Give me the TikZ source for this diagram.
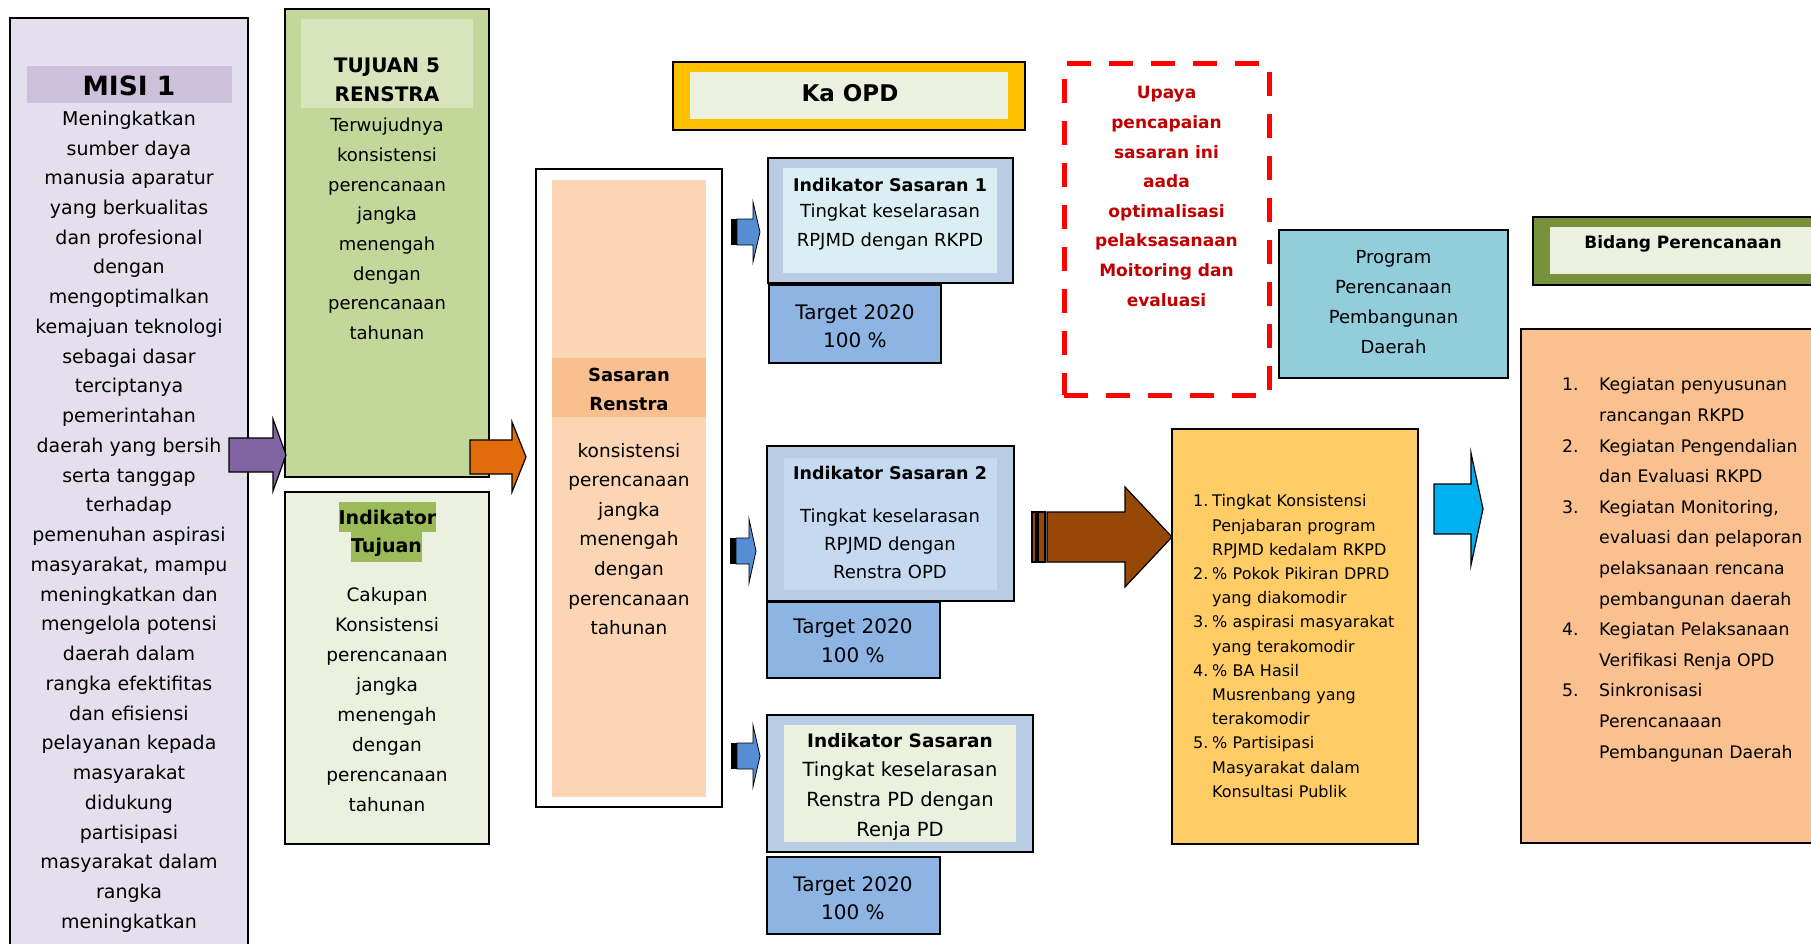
\documentclass[tikz,border=0pt]{standalone}
\usepackage{fontspec}
\setmainfont{DejaVu Sans}
\usetikzlibrary{fit}

\definecolor{misiFill}{HTML}{E4DFEC}
\definecolor{misiHead}{HTML}{CCC0DA}
\definecolor{tujFill}{HTML}{C4D79B}
\definecolor{tujHead}{HTML}{D8E4BC}
\definecolor{paleGreen}{HTML}{EBF1DE}
\definecolor{hlGreen}{HTML}{9BBB59}
\definecolor{purpleArr}{HTML}{8064A2}
\definecolor{orangeArr}{HTML}{E26B0A}
\definecolor{peach}{HTML}{FCD5B4}
\definecolor{peachDark}{HTML}{FABF8F}
\definecolor{gold}{HTML}{FFC000}
\definecolor{steel}{HTML}{B8CCE4}
\definecolor{iceBlue}{HTML}{DAEEF3}
\definecolor{paleBlue}{HTML}{C5D9F1}
\definecolor{targetBlue}{HTML}{8DB4E2}
\definecolor{smallArr}{HTML}{558ED5}
\definecolor{darkRed}{HTML}{C00000}
\definecolor{progBlue}{HTML}{92CDDC}
\definecolor{brownArr}{HTML}{974706}
\definecolor{listYellow}{HTML}{FFCC66}
\definecolor{cyanArr}{HTML}{00B0F0}
\definecolor{oliveBar}{HTML}{76933C}
\definecolor{apricot}{HTML}{FAC090}

\newcommand\fsz[2]{\fontsize{#1}{#2}\selectfont}
% block arrow: style, tail x, head base x, tip x, centre y, half body, half head
\newcommand\blockarrow[7]{%
  \path[#1] (#2,#5-#6) -- (#3,#5-#6) -- (#3,#5-#7) -- (#4,#5)
    -- (#3,#5+#7) -- (#3,#5+#6) -- (#2,#5+#6) -- cycle;}
% numbered list item with hanging indent (lines split by \newline)
\newcommand\listitem[3]{\hangindent=#1\hangafter=1\noindent\makebox[#1][l]{#2}#3\par}

\begin{document}
\begin{tikzpicture}[x=1pt,y=-1pt,
  box/.style={draw=black, line width=2pt, inner sep=0pt},
  band/.style={draw=none, inner sep=0pt},
  txt/.style={align=center, inner sep=0pt},
  arr/.style={draw=black, line width=1.2pt, line join=miter},
  listbox/.style={inner sep=0pt, anchor=north west}]
\useasboundingbox (0,0) rectangle (1811,944);
\clip (0,0) rectangle (1811,944);

% ---- Misi column
\node[box, fill=misiFill, fit={(10,18) (248,990)}] (misi) {};
\node[band, fill=misiHead, fit={(27,66) (232,103)}] (misiBand) {};
\node[txt, font={\bfseries\fsz{26.5}{30}}] (misiHd) at (129,86) {MISI 1};
\node[txt, font={\fsz{19}{29.74}}] (misiTx) at (129,521.5)
  {Meningkatkan\\sumber daya\\manusia aparatur\\yang berkualitas\\dan profesional\\dengan\\mengoptimalkan\\kemajuan teknologi\\sebagai dasar\\terciptanya\\pemerintahan\\daerah yang bersih\\serta tanggap\\terhadap\\pemenuhan aspirasi\\masyarakat, mampu\\meningkatkan dan\\mengelola potensi\\daerah dalam\\rangka efektifitas\\dan efisiensi\\pelayanan kepada\\masyarakat\\didukung\\partisipasi\\masyarakat dalam\\rangka\\meningkatkan};

% ---- Tujuan column
\node[box, fill=tujFill, fit={(285,9) (489,477)}] (tujuan) {};
\node[band, fill=tujHead, fit={(301,19) (473,108)}] (tujBand) {};
\node[txt, font={\bfseries\fsz{20}{29}}] (tujHd) at (387,79.5) {TUJUAN 5\\RENSTRA};
\node[txt, font={\fsz{18}{29.7}}] (tujTx) at (387,229)
  {Terwujudnya\\konsistensi\\perencanaan\\jangka\\menengah\\dengan\\perencanaan\\tahunan};

\node[box, fill=paleGreen, fit={(285,492) (489,844)}] (indTuj) {};
\node[band, fill=hlGreen, minimum height=30pt, font={\bfseries\fsz{19}{30}}] (indTujA) at (387.5,517) {Indikator};
\node[band, fill=hlGreen, minimum height=30pt, font={\bfseries\fsz{19}{30}}] (indTujB) at (386.5,547) {Tujuan};
\node[txt, font={\fsz{18.5}{30}}] (indTujTx) at (387,700)
  {Cakupan\\Konsistensi\\perencanaan\\jangka\\menengah\\dengan\\perencanaan\\tahunan};

% ---- Sasaran column
\node[box, fill=white, fit={(536,169) (722,807)}] (sasaran) {};
\node[band, fill=peach, fit={(552,180) (706,797)}] (sasInner) {};
\node[band, fill=peachDark, fit={(552,358) (706,417)}] (sasBand) {};
\node[txt, font={\bfseries\fsz{18}{29}}] (sasHd) at (629,389) {Sasaran\\Renstra};
\node[txt, font={\fsz{18.5}{29.6}}] (sasTx) at (629,539)
  {konsistensi\\perencanaan\\jangka\\menengah\\dengan\\perencanaan\\tahunan};

% ---- Ka OPD
\node[box, fill=gold, fit={(673,62) (1025,130)}] (kaopd) {};
\node[band, fill=paleGreen, fit={(690,72) (1008,119)}] (kaopdIn) {};
\node[txt, font={\bfseries\fsz{23}{28}}] (kaopdTx) at (850,93) {Ka OPD};

% ---- Indikator sasaran 1
\node[box, fill=steel, fit={(768,158) (1013,283)}] (is1) {};
\node[band, fill=iceBlue, fit={(783,168) (997,273)}] (is1In) {};
\node[txt, font={\bfseries\fsz{17.5}{28}}] (is1Hd) at (890,185) {Indikator Sasaran 1};
\node[txt, font={\fsz{18}{29}}] (is1Tx) at (890,227.5) {Tingkat keselarasan\\RPJMD dengan RKPD};
\node[box, fill=targetBlue, fit={(769,285) (941,363)}] (tg1) {};
\node[txt, font={\fsz{20}{28}}] (tg1Tx) at (855,326) {Target 2020\\100 \%};

% ---- Indikator sasaran 2
\node[box, fill=steel, fit={(767,446) (1014,601)}] (is2) {};
\node[band, fill=paleBlue, fit={(784,458) (997,590)}] (is2In) {};
\node[txt, font={\bfseries\fsz{17.5}{28}}] (is2Hd) at (890,473) {Indikator Sasaran 2};
\node[txt, font={\fsz{18}{28}}] (is2Tx) at (890,544) {Tingkat keselarasan\\RPJMD dengan\\Renstra OPD};
\node[box, fill=targetBlue, fit={(767,602) (940,678)}] (tg2) {};
\node[txt, font={\fsz{20}{29}}] (tg2Tx) at (853,641) {Target 2020\\100 \%};

% ---- Indikator sasaran 3
\node[box, fill=steel, fit={(767,715) (1033,852)}] (is3) {};
\node[band, fill=paleGreen, fit={(784,725) (1016,842)}] (is3In) {};
\node[txt, font={\bfseries\fsz{18.5}{28}}] (is3Hd) at (900,741) {Indikator Sasaran};
\node[txt, font={\fsz{19.5}{30}}] (is3Tx) at (900,801) {Tingkat keselarasan\\Renstra PD dengan\\Renja PD};
\node[box, fill=targetBlue, fit={(767,857) (940,934)}] (tg3) {};
\node[txt, font={\fsz{20}{28}}] (tg3Tx) at (853,898) {Target 2020\\100 \%};

% ---- Upaya (dashed)
\node[draw=red, line width=5pt, dash pattern=on 24pt off 18pt, inner sep=0pt,
  fit={(1064,64) (1269,395)}] (upaya) {};
\node[txt, text=darkRed, font={\bfseries\fsz{17}{29.6}}] (upayaTx) at (1166.5,196.5)
  {Upaya\\pencapaian\\sasaran ini\\aada\\optimalisasi\\pelaksasanaan\\Moitoring dan\\evaluasi};

% ---- Program
\node[box, fill=progBlue, fit={(1279,230) (1508,378)}] (program) {};
\node[txt, font={\fsz{18}{30}}] (programTx) at (1393.5,302)
  {Program\\Perencanaan\\Pembangunan\\Daerah};

% ---- Indikator program list
\node[box, fill=listYellow, fit={(1172,429) (1418,844)}] (indProg) {};
\node[listbox, text width=225pt, font={\fsz{16}{24.2}\parindent=0pt\parskip=0pt}] (indProgTx) at (1193,494.5)
  {\listitem{19pt}{1.}{Tingkat Konsistensi\newline Penjabaran program\newline RPJMD kedalam RKPD}%
   \listitem{19pt}{2.}{\% Pokok Pikiran DPRD\newline yang diakomodir}%
   \listitem{19pt}{3.}{\% aspirasi masyarakat\newline yang terakomodir}%
   \listitem{19pt}{4.}{\% BA Hasil\newline Musrenbang yang\newline terakomodir}%
   \listitem{19pt}{5.}{\% Partisipasi\newline Masyarakat dalam\newline Konsultasi Publik}};

% ---- Bidang Perencanaan
\node[box, fill=oliveBar, fit={(1533,217) (1840,285)}] (bidang) {};
\node[band, fill=paleGreen, fit={(1550,227) (1840,274)}] (bidangIn) {};
\node[txt, font={\bfseries\fsz{17}{24}}] (bidangTx) at (1683,244) {Bidang Perencanaan};

\node[box, fill=apricot, fit={(1521,329) (1840,843)}] (kegiatan) {};
\node[listbox, text width=300pt, font={\fsz{17.3}{30.6}\parindent=0pt\parskip=0pt}] (kegiatanTx) at (1562,377.5)
  {\listitem{37pt}{1.}{Kegiatan penyusunan\newline rancangan RKPD}%
   \listitem{37pt}{2.}{Kegiatan Pengendalian\newline dan Evaluasi RKPD}%
   \listitem{37pt}{3.}{Kegiatan Monitoring,\newline evaluasi dan pelaporan\newline pelaksanaan rencana\newline pembangunan daerah}%
   \listitem{37pt}{4.}{Kegiatan Pelaksanaan\newline Verifikasi Renja OPD}%
   \listitem{37pt}{5.}{Sinkronisasi\newline Perencanaaan\newline Pembangunan Daerah}};

% ---- Block arrows between the columns
\blockarrow{arr, fill=purpleArr}{229}{273}{286}{455}{17}{36}
\blockarrow{arr, fill=orangeArr}{470}{512}{526}{457}{17}{35}

\fill[black] (731,219) rectangle (737,245);
\blockarrow{arr, fill=smallArr, line width=0.8pt}{737}{753}{760}{232}{13}{30}
\fill[black] (730,538) rectangle (736,564);
\blockarrow{arr, fill=smallArr, line width=0.8pt}{736}{749}{756}{551}{13}{32}
\fill[black] (731,743) rectangle (737,769);
\blockarrow{arr, fill=smallArr, line width=0.8pt}{737}{753}{760}{756}{13}{31}

\path[arr, fill=brownArr] (1032,512) rectangle (1036,562);
\path[arr, fill=brownArr] (1038,512) rectangle (1045,562);
\blockarrow{arr, fill=brownArr}{1047}{1125}{1172}{537}{25}{50}

\blockarrow{arr, fill=cyanArr}{1434}{1471}{1483}{509}{25}{56}
\end{tikzpicture}
\end{document}
